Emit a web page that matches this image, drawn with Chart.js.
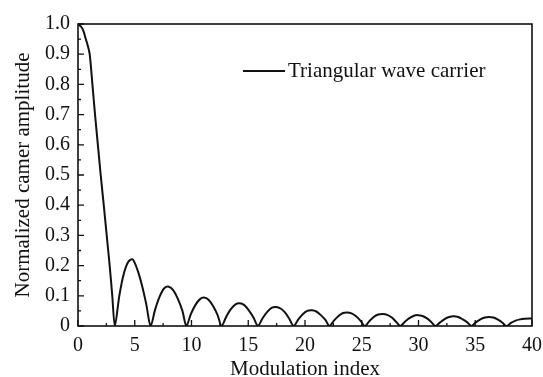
<!DOCTYPE html>
<html>
<head>
<meta charset="utf-8">
<script src="https://cdn.jsdelivr.net/npm/chart.js@4"></script>
<style>
  html, body { margin: 0; padding: 0; background: #fff; }
  #wrap { width: 543px; height: 377px; }
</style>
</head>
<body>
<div id="wrap"><canvas id="chart" width="543" height="377"></canvas></div>
<script>
// --- values ---
const modulationIndex = [
  0, 0.3, 0.5, 0.65, 0.85, 1.03, 1.27, 1.5, 1.75, 2.0, 2.27, 2.53, 2.79, 3.02, 3.25,
  3.64, 4.03, 4.42, 4.8, 5.2, 5.6, 6.0, 6.4,
  6.8, 7.2, 7.6, 8.0, 8.4, 8.8, 9.2, 9.55,
  9.95, 10.35, 10.75, 11.1, 11.5, 11.9, 12.3, 12.65,
  13.05, 13.45, 13.85, 14.25, 14.65, 15.05, 15.45, 15.85,
  16.25, 16.65, 17.05, 17.45, 17.85, 18.25, 18.6, 19.0,
  19.4, 19.8, 20.2, 20.6, 21.0, 21.4, 21.8, 22.15,
  22.55, 22.95, 23.35, 23.7, 24.1, 24.5, 24.9, 25.27,
  25.67, 26.05, 26.45, 26.85, 27.25, 27.65, 28.0, 28.4,
  28.8, 29.2, 29.6, 29.95, 30.35, 30.75, 31.1, 31.5,
  31.9, 32.3, 32.7, 33.1, 33.5, 33.9, 34.3, 34.66,
  35.05, 35.45, 35.85, 36.2, 36.6, 37.0, 37.4, 37.75,
  38.15, 38.55, 38.95, 39.35, 40
];
const carrierAmplitude = [
  1.0, 0.99, 0.975, 0.955, 0.93, 0.9, 0.8, 0.7, 0.6, 0.5, 0.4, 0.3, 0.2, 0.1, 0,
  0.10, 0.172, 0.212, 0.221, 0.19, 0.14, 0.075, 0,
  0.055, 0.098, 0.125, 0.13, 0.118, 0.09, 0.05, 0,
  0.04, 0.07, 0.089, 0.094, 0.087, 0.066, 0.036, 0,
  0.03, 0.055, 0.071, 0.075, 0.069, 0.052, 0.029, 0,
  0.025, 0.046, 0.06, 0.063, 0.058, 0.044, 0.025, 0,
  0.021, 0.039, 0.05, 0.052, 0.048, 0.036, 0.02, 0,
  0.018, 0.033, 0.043, 0.045, 0.042, 0.032, 0.017, 0,
  0.016, 0.03, 0.038, 0.04, 0.037, 0.028, 0.015, 0,
  0.014, 0.026, 0.034, 0.036, 0.033, 0.025, 0.014, 0,
  0.012, 0.023, 0.03, 0.032, 0.03, 0.022, 0.012, 0,
  0.012, 0.022, 0.028, 0.03, 0.028, 0.021, 0.011, 0,
  0.01, 0.018, 0.022, 0.024, 0.025
];
const xTickLabels = ['0', '5', '10', '15', '20', '25', '30', '35', '40'];
const yTickLabels = ['0', '0.1', '0.2', '0.3', '0.4', '0.5', '0.6', '0.7', '0.8', '0.9', '1.0'];
const seriesName = 'Triangular wave carrier';

const serif = "'Liberation Serif', 'DejaVu Serif', serif";
const ink = '#111';

// frame, inward ticks and the legend drawn on top of the plot
const framePlugin = {
  id: 'frame',
  afterDraw(chart) {
    const { ctx, chartArea: a, scales } = chart;
    const xs = scales.x, ys = scales.y;
    ctx.save();
    ctx.strokeStyle = ink;
    ctx.lineWidth = 1.6;
    ctx.strokeRect(a.left, a.top, a.right - a.left, a.bottom - a.top);

    ctx.lineWidth = 1.3;
    ctx.beginPath();
    xs.ticks.forEach((t, i) => {
      const px = xs.getPixelForValue(t.value);
      ctx.moveTo(px, a.bottom); ctx.lineTo(px, a.bottom - 6);
      if (i < xs.ticks.length - 1) {
        const mid = xs.getPixelForValue((t.value + xs.ticks[i + 1].value) / 2);
        ctx.moveTo(mid, a.bottom); ctx.lineTo(mid, a.bottom - 3);
      }
    });
    ys.ticks.forEach((t, i) => {
      const py = ys.getPixelForValue(t.value);
      ctx.moveTo(a.left, py); ctx.lineTo(a.left + 6, py);
      if (i < ys.ticks.length - 1) {
        const mid = ys.getPixelForValue((t.value + ys.ticks[i + 1].value) / 2);
        ctx.moveTo(a.left, mid); ctx.lineTo(a.left + 3, mid);
      }
    });
    ctx.stroke();

    // legend
    ctx.lineWidth = 2;
    ctx.beginPath();
    ctx.moveTo(243, 71); ctx.lineTo(285, 71);
    ctx.stroke();
    ctx.fillStyle = ink;
    ctx.font = '21px ' + serif;
    ctx.textBaseline = 'middle';
    ctx.fillText(seriesName, 288, 71);
    ctx.restore();
  }
};

new Chart(document.getElementById('chart'), {
  type: 'line',
  data: {
    datasets: [{
      label: seriesName,
      data: modulationIndex.map((x, i) => ({ x: x, y: carrierAmplitude[i] })),
      borderColor: ink,
      borderWidth: 2,
      pointRadius: 0,
      tension: 0.3,
      fill: false
    }]
  },
  options: {
    responsive: false,
    animation: false,
    layout: { padding: { top: 24, right: 11, left: 0, bottom: 0 } },
    plugins: {
      legend: { display: false },
      tooltip: { enabled: false }
    },
    scales: {
      x: {
        type: 'linear',
        min: 0, max: 40,
        afterFit: s => { s.height = 51; s.paddingLeft = 0; s.paddingRight = 0; },
        grid: { display: false, drawTicks: false },
        border: { display: false },
        ticks: {
          stepSize: 5,
          padding: 8,
          color: ink,
          font: { family: serif, size: 20 },
          maxRotation: 0,
          callback: (v, i) => xTickLabels[i]
        },
        title: {
          display: true,
          text: 'Modulation index',
          color: ink,
          font: { family: serif, size: 21, lineHeight: 1 },
          padding: { top: 0, bottom: -3 }
        }
      },
      y: {
        min: 0, max: 1,
        afterFit: s => { s.width = 78; s.paddingTop = 0; s.paddingBottom = 0; },
        grid: { display: false, drawTicks: false },
        border: { display: false },
        ticks: {
          stepSize: 0.1,
          padding: 8,
          color: ink,
          font: { family: serif, size: 20 },
          callback: (v, i) => yTickLabels[i]
        },
        title: {
          display: true,
          text: 'Normalized camer amplitude',
          color: ink,
          font: { family: serif, size: 21, lineHeight: 1 },
          padding: { top: 13, bottom: 0 }
        }
      }
    }
  },
  plugins: [framePlugin]
});
</script>
</body>
</html>
